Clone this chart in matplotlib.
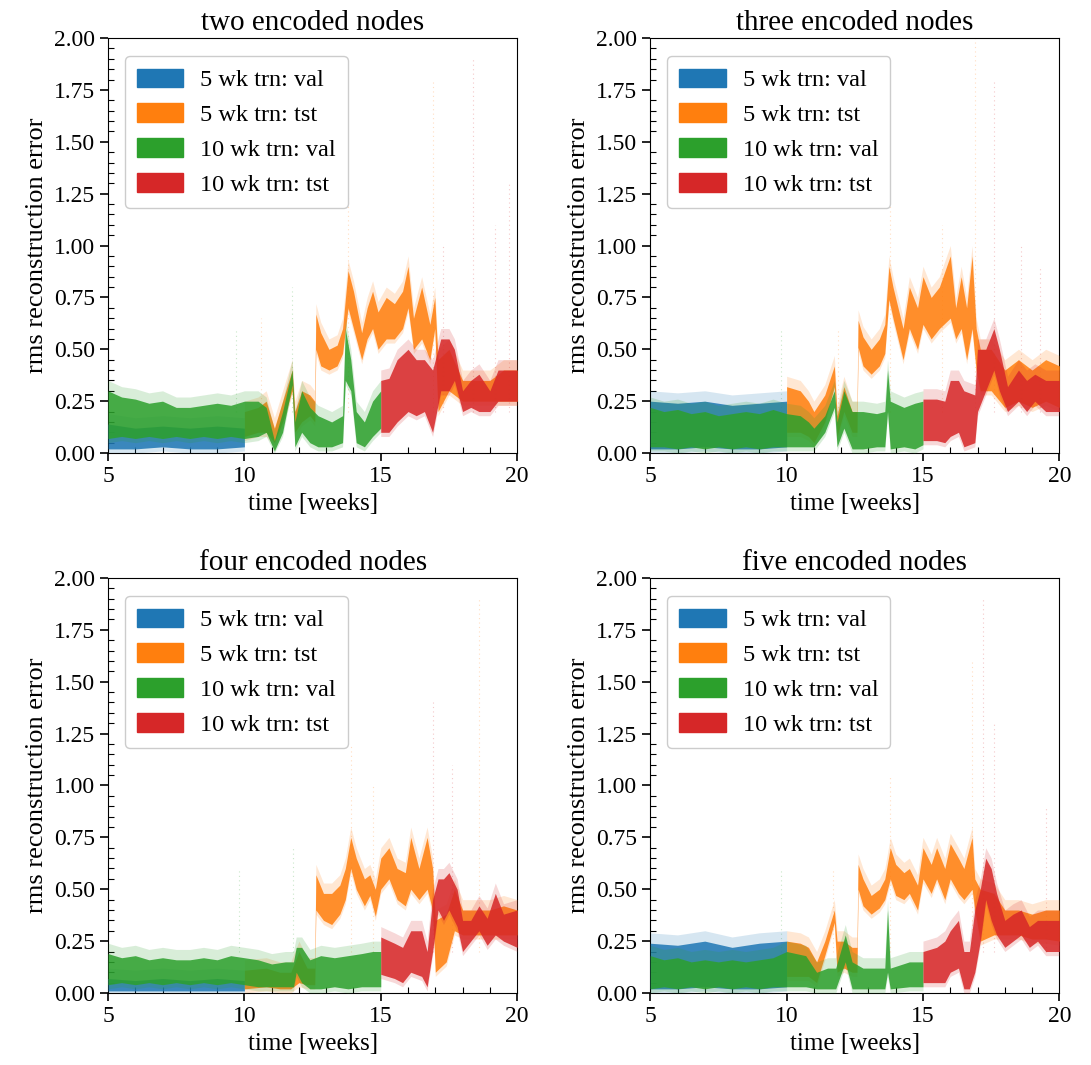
import matplotlib
matplotlib.use('Agg')
import matplotlib.pyplot as plt
import matplotlib.patches as mpatches
from matplotlib.ticker import MultipleLocator, FormatStrFormatter
import numpy as np

plt.rcParams['font.family'] = ['Liberation Serif', 'DejaVu Serif']

titles = ['two encoded nodes', 'three encoded nodes', 'four encoded nodes', 'five encoded nodes']
labels = ['5 wk trn: val', '5 wk trn: tst', '10 wk trn: val', '10 wk trn: tst']
colors = ['#1f77b4', '#ff7f0e', '#2ca02c', '#d62728']

# error bands per series: (week, lower, upper)
two_val5 = [(5.0, 0.02, 0.14), (6.0, 0.02, 0.12), (7.0, 0.03, 0.13), (8.0, 0.02, 0.12),
            (9.0, 0.02, 0.13), (10.0, 0.03, 0.12)]
two_tst5 = [(10.0, 0.08, 0.20), (10.5, 0.10, 0.22), (10.8, 0.10, 0.25), (11.1, 0.05, 0.12),
            (11.4, 0.15, 0.25), (11.75, 0.30, 0.40), (11.85, 0.10, 0.20), (12.1, 0.15, 0.30),
            (12.4, 0.18, 0.28), (12.58, 0.15, 0.25), (12.62, 0.50, 0.67), (12.8, 0.42, 0.58),
            (13.1, 0.40, 0.50), (13.4, 0.42, 0.52), (13.6, 0.48, 0.60), (13.8, 0.70, 0.88),
            (14.0, 0.60, 0.78), (14.3, 0.45, 0.58), (14.5, 0.55, 0.70), (14.7, 0.60, 0.78),
            (14.9, 0.50, 0.68), (15.2, 0.55, 0.75), (15.5, 0.55, 0.72), (15.8, 0.60, 0.78),
            (16.0, 0.70, 0.90), (16.2, 0.50, 0.65), (16.5, 0.55, 0.80), (16.8, 0.45, 0.62),
            (16.98, 0.60, 0.75), (17.1, 0.20, 0.45), (17.5, 0.30, 0.50), (18.0, 0.25, 0.35),
            (18.5, 0.25, 0.35), (19.0, 0.25, 0.35), (19.5, 0.25, 0.40), (20.0, 0.25, 0.40)]
two_val10 = [(5.0, 0.07, 0.30), (5.5, 0.08, 0.27), (6.0, 0.07, 0.26), (6.5, 0.08, 0.24),
             (7.0, 0.07, 0.25), (7.5, 0.08, 0.22), (8.0, 0.07, 0.22), (8.5, 0.08, 0.23),
             (9.0, 0.07, 0.24), (9.5, 0.08, 0.23), (10.0, 0.07, 0.25), (10.5, 0.08, 0.25),
             (10.8, 0.10, 0.22), (11.1, 0.01, 0.06), (11.4, 0.10, 0.20), (11.75, 0.33, 0.40),
             (11.85, 0.03, 0.15), (12.1, 0.10, 0.30), (12.4, 0.05, 0.22), (12.7, 0.03, 0.18),
             (13.2, 0.03, 0.15), (13.6, 0.05, 0.18), (13.7, 0.35, 0.60), (13.9, 0.30, 0.45),
             (14.1, 0.05, 0.20), (14.4, 0.03, 0.15), (14.7, 0.08, 0.25), (15.0, 0.12, 0.30)]
two_tst10 = [(15.0, 0.10, 0.35), (15.3, 0.10, 0.36), (15.6, 0.15, 0.45), (16.0, 0.20, 0.50),
             (16.3, 0.18, 0.45), (16.6, 0.20, 0.45), (16.9, 0.10, 0.40), (17.2, 0.30, 0.55),
             (17.5, 0.30, 0.55), (17.7, 0.35, 0.50), (18.0, 0.20, 0.30), (18.3, 0.22, 0.35),
             (18.6, 0.20, 0.38), (19.0, 0.20, 0.30), (19.3, 0.25, 0.40), (19.6, 0.25, 0.40),
             (20.0, 0.25, 0.40)]

three_val5 = [(5.0, 0.02, 0.25), (6.0, 0.02, 0.24), (7.0, 0.03, 0.25), (8.0, 0.02, 0.23),
              (9.0, 0.02, 0.24), (10.0, 0.03, 0.25)]
three_tst5 = [(10.0, 0.10, 0.32), (10.5, 0.10, 0.30), (10.8, 0.08, 0.25), (11.0, 0.05, 0.20),
              (11.4, 0.15, 0.28), (11.75, 0.32, 0.42), (11.85, 0.08, 0.18), (12.1, 0.20, 0.32),
              (12.4, 0.10, 0.20), (12.58, 0.10, 0.20), (12.62, 0.51, 0.64), (12.8, 0.42, 0.56),
              (13.1, 0.38, 0.50), (13.4, 0.42, 0.55), (13.6, 0.48, 0.62), (13.75, 0.74, 0.90),
              (13.9, 0.65, 0.80), (14.27, 0.45, 0.60), (14.5, 0.60, 0.80), (14.8, 0.50, 0.70),
              (15.0, 0.62, 0.85), (15.3, 0.55, 0.75), (15.6, 0.60, 0.80), (16.0, 0.65, 0.95),
              (16.2, 0.55, 0.70), (16.4, 0.60, 0.85), (16.6, 0.45, 0.70), (16.8, 0.60, 0.95),
              (16.95, 0.40, 0.60), (17.1, 0.30, 0.50), (17.5, 0.30, 0.50), (18.0, 0.22, 0.40),
              (18.5, 0.25, 0.45), (19.0, 0.22, 0.40), (19.5, 0.25, 0.45), (20.0, 0.22, 0.42)]
three_val10 = [(5.0, 0.03, 0.22), (5.5, 0.03, 0.20), (6.0, 0.02, 0.21), (6.5, 0.03, 0.19),
               (7.0, 0.02, 0.20), (7.5, 0.03, 0.18), (8.0, 0.02, 0.19), (8.5, 0.03, 0.20),
               (9.0, 0.02, 0.19), (9.5, 0.03, 0.21), (10.0, 0.03, 0.19), (10.5, 0.03, 0.18),
               (10.8, 0.03, 0.15), (11.0, 0.03, 0.12), (11.4, 0.10, 0.18), (11.75, 0.22, 0.30),
               (11.85, 0.03, 0.15), (12.1, 0.12, 0.30), (12.4, 0.02, 0.20), (12.8, 0.02, 0.20),
               (13.3, 0.03, 0.19), (13.6, 0.03, 0.20), (13.7, 0.20, 0.40), (13.8, 0.02, 0.25),
               (14.3, 0.03, 0.22), (14.7, 0.02, 0.24), (15.0, 0.04, 0.25)]
three_tst10 = [(15.0, 0.06, 0.26), (15.5, 0.06, 0.26), (15.8, 0.05, 0.25), (16.0, 0.08, 0.35),
               (16.3, 0.10, 0.35), (16.5, 0.03, 0.30), (16.9, 0.05, 0.28), (17.0, 0.20, 0.50),
               (17.3, 0.30, 0.50), (17.6, 0.40, 0.60), (17.8, 0.30, 0.50), (18.1, 0.20, 0.32),
               (18.5, 0.25, 0.40), (18.8, 0.20, 0.35), (19.1, 0.25, 0.38), (19.5, 0.20, 0.35),
               (20.0, 0.20, 0.35)]

four_val5 = [(5.0, 0.01, 0.07), (6.0, 0.01, 0.06), (7.0, 0.01, 0.07), (8.0, 0.01, 0.06),
             (9.0, 0.01, 0.07), (10.0, 0.01, 0.06)]
four_tst5 = [(10.0, 0.02, 0.11), (10.8, 0.03, 0.12), (11.3, 0.02, 0.10), (11.7, 0.02, 0.10),
             (12.0, 0.05, 0.20), (12.3, 0.04, 0.12), (12.58, 0.04, 0.12), (12.62, 0.40, 0.57),
             (12.9, 0.35, 0.48), (13.2, 0.33, 0.48), (13.5, 0.38, 0.52), (13.7, 0.45, 0.60),
             (13.9, 0.60, 0.75), (14.1, 0.50, 0.65), (14.4, 0.42, 0.55), (14.6, 0.47, 0.57),
             (14.8, 0.37, 0.50), (15.0, 0.50, 0.65), (15.3, 0.55, 0.70), (15.6, 0.45, 0.60),
             (15.9, 0.42, 0.58), (16.1, 0.50, 0.75), (16.4, 0.45, 0.60), (16.7, 0.50, 0.75),
             (16.9, 0.40, 0.60), (17.0, 0.10, 0.35), (17.4, 0.15, 0.38), (17.7, 0.30, 0.50),
             (18.0, 0.28, 0.40), (18.5, 0.28, 0.40), (19.0, 0.28, 0.40), (19.5, 0.28, 0.42),
             (20.0, 0.28, 0.40)]
four_val10 = [(5.0, 0.04, 0.19), (5.5, 0.05, 0.17), (6.0, 0.04, 0.18), (6.5, 0.05, 0.16),
              (7.0, 0.04, 0.17), (7.5, 0.05, 0.16), (8.0, 0.04, 0.16), (8.5, 0.05, 0.17),
              (9.0, 0.04, 0.16), (9.5, 0.05, 0.18), (10.0, 0.04, 0.17), (10.5, 0.03, 0.16),
              (11.0, 0.03, 0.14), (11.5, 0.03, 0.15), (11.8, 0.03, 0.15), (11.9, 0.10, 0.22),
              (12.1, 0.05, 0.22), (12.4, 0.02, 0.16), (12.8, 0.02, 0.18), (13.3, 0.03, 0.17),
              (13.8, 0.02, 0.18), (14.3, 0.03, 0.19), (14.7, 0.03, 0.20), (15.0, 0.03, 0.20)]
four_tst10 = [(15.0, 0.09, 0.27), (15.5, 0.07, 0.24), (15.8, 0.05, 0.22), (16.1, 0.10, 0.30),
              (16.5, 0.08, 0.30), (16.7, 0.03, 0.20), (16.9, 0.20, 0.45), (17.1, 0.40, 0.55),
              (17.3, 0.35, 0.55), (17.5, 0.40, 0.58), (17.8, 0.32, 0.50), (18.0, 0.20, 0.35),
              (18.3, 0.25, 0.35), (18.6, 0.30, 0.42), (18.9, 0.23, 0.36), (19.2, 0.28, 0.48),
              (19.5, 0.25, 0.38), (20.0, 0.22, 0.40)]

five_val5 = [(5.0, 0.02, 0.24), (6.0, 0.02, 0.23), (7.0, 0.03, 0.25), (8.0, 0.02, 0.22),
             (9.0, 0.02, 0.24), (10.0, 0.03, 0.25)]
five_tst5 = [(10.0, 0.08, 0.25), (10.5, 0.08, 0.24), (10.8, 0.08, 0.22), (11.1, 0.05, 0.15),
             (11.4, 0.18, 0.25), (11.75, 0.34, 0.40), (11.85, 0.10, 0.25), (12.1, 0.12, 0.25),
             (12.4, 0.10, 0.22), (12.58, 0.10, 0.22), (12.62, 0.50, 0.62), (12.8, 0.42, 0.55),
             (13.1, 0.38, 0.47), (13.4, 0.41, 0.50), (13.6, 0.45, 0.55), (13.8, 0.55, 0.70),
             (14.0, 0.47, 0.62), (14.3, 0.45, 0.58), (14.5, 0.48, 0.60), (14.8, 0.40, 0.52),
             (15.0, 0.55, 0.70), (15.3, 0.48, 0.62), (15.5, 0.55, 0.70), (15.8, 0.45, 0.60),
             (16.0, 0.55, 0.72), (16.3, 0.48, 0.65), (16.5, 0.45, 0.60), (16.8, 0.50, 0.75),
             (16.9, 0.40, 0.55), (17.1, 0.25, 0.50), (17.6, 0.28, 0.48), (18.0, 0.28, 0.40),
             (18.5, 0.28, 0.40), (19.0, 0.26, 0.38), (19.5, 0.26, 0.40), (20.0, 0.25, 0.40)]
five_val10 = [(5.0, 0.02, 0.18), (5.5, 0.03, 0.16), (6.0, 0.02, 0.17), (6.5, 0.03, 0.15),
              (7.0, 0.02, 0.16), (7.5, 0.03, 0.15), (8.0, 0.02, 0.16), (8.5, 0.03, 0.15),
              (9.0, 0.02, 0.16), (9.5, 0.03, 0.17), (10.0, 0.03, 0.20), (10.7, 0.03, 0.18),
              (11.1, 0.02, 0.10), (11.5, 0.02, 0.12), (11.8, 0.02, 0.12), (12.15, 0.15, 0.28),
              (12.4, 0.02, 0.15), (12.8, 0.02, 0.12), (13.3, 0.02, 0.12), (13.6, 0.02, 0.12),
              (13.7, 0.10, 0.40), (13.8, 0.02, 0.12), (14.5, 0.03, 0.15), (15.0, 0.03, 0.15)]
five_tst10 = [(15.0, 0.05, 0.20), (15.5, 0.05, 0.22), (15.8, 0.05, 0.25), (16.0, 0.10, 0.30),
              (16.3, 0.12, 0.35), (16.5, 0.02, 0.20), (16.7, 0.02, 0.20), (16.9, 0.10, 0.40),
              (17.1, 0.25, 0.50), (17.3, 0.45, 0.65), (17.5, 0.35, 0.60), (17.7, 0.28, 0.48),
              (18.0, 0.22, 0.35), (18.3, 0.25, 0.38), (18.6, 0.28, 0.40), (18.9, 0.22, 0.32),
              (19.2, 0.25, 0.35), (19.5, 0.20, 0.35), (20.0, 0.20, 0.35)]

# occasional isolated outliers: (week, top value, series index)
two_spikes = [(9.7, 0.6, 2), (10.6, 0.65, 1), (11.75, 0.8, 2), (13.8, 1.25, 1), (16.9, 1.8, 1),
              (17.3, 1.0, 3), (18.4, 1.9, 3), (19.2, 1.1, 3), (19.7, 1.3, 3)]
three_spikes = [(9.8, 0.6, 2), (11.9, 0.6, 1), (13.8, 1.2, 1), (15.7, 1.1, 1), (16.9, 2.0, 1),
                (17.6, 1.8, 3), (18.6, 1.0, 3), (19.3, 0.9, 3)]
four_spikes = [(9.8, 0.6, 2), (11.8, 0.7, 2), (13.9, 1.2, 1), (14.7, 1.0, 1), (16.9, 1.4, 3),
               (17.6, 1.1, 3), (18.6, 1.9, 1)]
five_spikes = [(9.8, 0.6, 2), (11.7, 0.6, 1), (13.8, 1.05, 1), (16.8, 1.6, 1), (17.2, 1.9, 3),
               (17.6, 1.3, 3), (19.5, 0.9, 3)]

panels = [
    (two_val5, two_tst5, two_val10, two_tst10, two_spikes),
    (three_val5, three_tst5, three_val10, three_tst10, three_spikes),
    (four_val5, four_tst5, four_val10, four_tst10, four_spikes),
    (five_val5, five_tst5, five_val10, five_tst10, five_spikes),
]

fig = plt.figure(figsize=(10.91, 10.65), dpi=100)
lefts = [0.099, 0.596]
bottoms = [0.5746, 0.0676]

for k, (title, panel) in enumerate(zip(titles, panels)):
    ax = fig.add_axes([lefts[k % 2], bottoms[k // 2], 0.375, 0.3897])
    *bands, spikes = panel
    for t, top, i in spikes:
        ax.vlines(t, 0.2, top, color=colors[i], lw=0.8, alpha=0.25,
                  linestyles=(0, (1, 3)), zorder=1)
    # draw order keeps the test sets of the 10 week model on top
    for i in range(4):
        arr = np.array(bands[i])
        t, lo, hi = arr[:, 0], arr[:, 1], arr[:, 2]
        # faint halo of scattered points around the dense core
        ax.fill_between(t, np.clip(lo - 0.02, 0, None), hi + 0.05, color=colors[i],
                        lw=0, alpha=0.18, zorder=2 + 2 * i)
        ax.fill_between(t, lo, hi, color=colors[i], lw=0, alpha=0.85, zorder=3 + 2 * i)

    ax.set_xlim(5, 20)
    ax.set_ylim(0, 2)
    ax.xaxis.set_major_locator(MultipleLocator(5))
    ax.xaxis.set_minor_locator(MultipleLocator(1))
    ax.yaxis.set_major_locator(MultipleLocator(0.25))
    ax.yaxis.set_minor_locator(MultipleLocator(0.05))
    ax.yaxis.set_major_formatter(FormatStrFormatter('%.2f'))
    ax.tick_params(which='major', direction='out', length=6, width=1.2, labelsize=17)
    ax.tick_params(which='minor', direction='in', length=4, width=0.8)
    ax.set_title(title, fontsize=21)
    ax.set_xlabel('time [weeks]', fontsize=18)
    ax.set_ylabel('rms reconstruction error', fontsize=19)

    handles = [mpatches.Patch(color=c, label=l) for c, l in zip(colors, labels)]
    ax.legend(handles=handles, loc='upper left', fontsize=17.5, handlelength=1.9,
              handleheight=0.8, labelspacing=0.5, borderpad=0.5, handletextpad=0.7,
              bbox_to_anchor=(0.012, 0.985), framealpha=1.0)

fig.savefig('out.png', dpi=100)
